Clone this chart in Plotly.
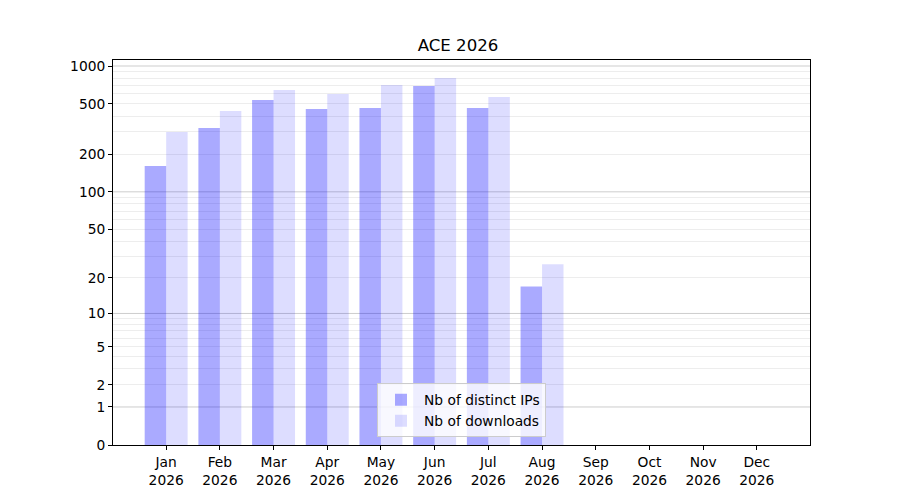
import numpy as np
import plotly.graph_objects as go

months = ["Jan", "Feb", "Mar", "Apr", "May", "Jun", "Jul", "Aug", "Sep", "Oct", "Nov", "Dec"]
year = "2026"
distinct_ips = [161, 322, 538, 456, 465, 695, 465, 17, 0, 0, 0, 0]
downloads = [300, 440, 646, 600, 708, 804, 569, 26, 0, 0, 0, 0]

tick_labels = [0, 1, 2, 5, 10, 20, 50, 100, 200, 500, 1000]
major_grid = [1, 10, 100, 1000]
minor_grid = [m * d for d in (1, 10, 100) for m in range(2, 10)]

# y axis is log10(1 + n): plot n + 1 on a log axis
x = list(range(len(months)))
fig = go.Figure()
fig.add_trace(go.Bar(x=x, y=np.array(distinct_ips) + 1, name="Nb of distinct IPs",
                     marker=dict(color="rgba(0,0,255,0.333)", line_width=0)))
fig.add_trace(go.Bar(x=x, y=np.array(downloads) + 1, name="Nb of downloads",
                     marker=dict(color="rgba(0,0,255,0.135)", line_width=0)))

for v in major_grid:
    fig.add_hline(y=v + 1, line=dict(color="rgba(0,0,0,0.2)", width=1), layer="below")

fig.update_layout(
    width=900, height=500,
    paper_bgcolor="white", plot_bgcolor="white",
    margin=dict(l=105, r=98, t=52, b=63),
    font=dict(family="DejaVu Sans", size=13.8, color="black"),
    title=dict(text="ACE " + year, x=0.5, xanchor="center", y=0.926, yanchor="middle",
               font=dict(size=16.6)),
    barmode="group", bargap=0.2, bargroupgap=0,
    showlegend=True,
    legend=dict(x=0.5, xanchor="center", y=0.02, yanchor="bottom",
                bgcolor="rgba(255,255,255,0.8)", bordercolor="#cccccc", borderwidth=1,
                font=dict(size=13.8), itemwidth=36, tracegroupgap=0),
)
fig.update_xaxes(
    range=[-0.99, 11.99], tickmode="array", tickvals=x,
    ticktext=[m + "<br>" + year for m in months],
    showgrid=False, zeroline=False,
    showline=True, linecolor="black", linewidth=1, mirror=True,
    ticks="outside", ticklen=4, tickcolor="black",
)
fig.update_yaxes(
    type="log", range=[0, 3.048],
    tickmode="array", tickvals=[t + 1 for t in tick_labels], ticktext=[str(t) for t in tick_labels],
    showgrid=False, zeroline=False,
    showline=True, linecolor="black", linewidth=1, mirror=True,
    ticks="outside", ticklen=4, tickcolor="black",
    minor=dict(tickmode="array", tickvals=[v + 1 for v in minor_grid], showgrid=True,
               gridcolor="#ededed", gridwidth=1, ticks=""),
)

fig.write_html("out.html")
